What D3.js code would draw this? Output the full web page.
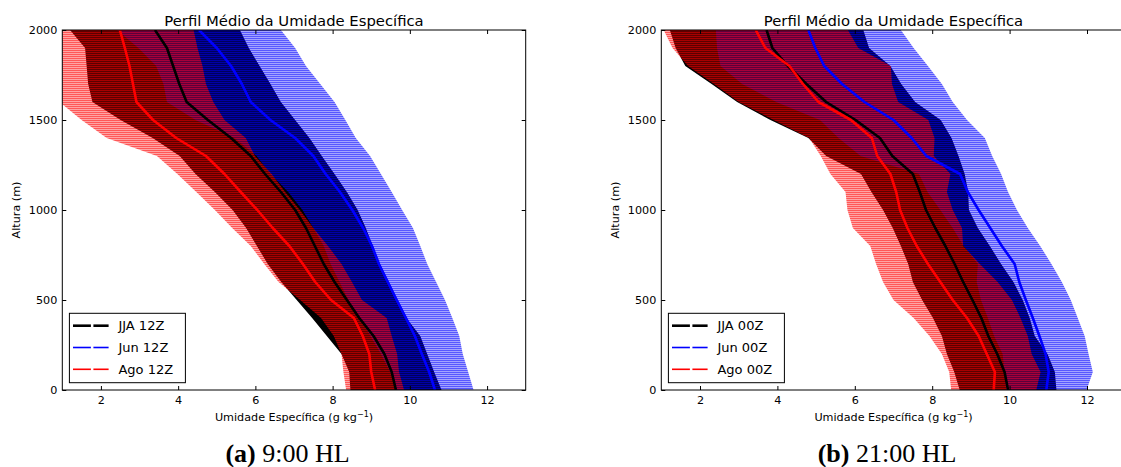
<!DOCTYPE html>
<html>
<head>
<meta charset="utf-8">
<script src="https://cdn.jsdelivr.net/npm/d3@7"></script>
<style>
  body { margin: 0; background: #fff; }
  svg { display: block; }
  text { font-family: "DejaVu Sans", sans-serif; fill: #000; }
</style>
</head>
<body>
<svg id="chart" width="1121" height="467"></svg>
<script>
// Height levels (m) of the mean profiles
const heights = [0, 100, 200, 300, 400, 500, 600, 700, 800, 900, 1000,
                 1100, 1200, 1300, 1400, 1500, 1600, 1700, 1800, 1900, 2000];

// 12Z soundings: mean specific humidity (g/kg) and standard deviation
const jja12Mean = [9.64, 9.53, 9.34, 9.06, 8.69, 8.37, 8.05, 7.77, 7.54, 7.31, 7.03, 6.66, 6.25, 5.88, 5.37, 4.77, 4.22, 4.03, 3.87, 3.71, 3.40];
const jja12Std  = [1.18, 1.10, 1.11, 1.21, 1.22, 1.30, 1.38, 1.45, 1.50, 1.55, 1.62, 1.71, 1.80, 1.84, 2.03, 2.26, 2.44, 2.36, 2.24, 2.12, 2.20];
const jun12Mean = [10.65, 10.50, 10.31, 10.13, 9.90, 9.66, 9.43, 9.20, 9.02, 8.79, 8.51, 8.19, 7.82, 7.50, 7.03, 6.39, 5.88, 5.65, 5.37, 5.00, 4.54];
const jun12Std  = [1.00, 1.01, 1.06, 1.15, 1.20, 1.25, 1.25, 1.25, 1.25, 1.29, 1.29, 1.34, 1.43, 1.47, 1.57, 1.94, 2.17, 2.03, 1.94, 2.03, 2.12];
const ago12Mean = [9.10, 9.00, 8.95, 8.78, 8.55, 7.96, 7.55, 7.23, 6.88, 6.45, 6.05, 5.62, 5.20, 4.72, 3.95, 3.35, 2.92, 2.83, 2.74, 2.62, 2.49];
const ago12Std  = [0.75, 0.72, 0.72, 0.75, 0.85, 0.80, 0.95, 1.00, 1.00, 1.05, 1.10, 1.15, 1.22, 1.27, 1.80, 1.85, 1.99, 1.89, 1.89, 1.88, 1.91];

// 00Z soundings
const jja00Mean = [9.96, 9.87, 9.68, 9.45, 9.27, 9.04, 8.80, 8.58, 8.34, 8.08, 7.84, 7.68, 7.50, 6.97, 6.65, 6.02, 5.26, 4.75, 4.27, 3.87, 3.72];
const jja00Std  = [1.25, 1.30, 1.30, 1.20, 1.25, 1.30, 1.30, 1.20, 1.15, 1.10, 1.11, 1.25, 1.34, 1.71, 1.85, 2.20, 2.30, 2.45, 2.65, 2.50, 2.50];
const jun00Mean = [10.95, 11.01, 10.93, 10.77, 10.60, 10.42, 10.25, 10.13, 9.80, 9.50, 9.20, 8.92, 8.72, 7.85, 7.47, 7.00, 6.25, 5.67, 5.21, 4.98, 4.80];
const jun00Std  = [1.04, 1.14, 1.11, 1.17, 1.16, 1.16, 1.10, 0.95, 0.99, 0.97, 0.99, 1.04, 1.06, 1.70, 1.89, 1.90, 2.28, 2.58, 2.68, 2.54, 2.39];
const ago00Mean = [9.59, 9.62, 9.41, 9.20, 8.90, 8.53, 8.21, 7.89, 7.60, 7.36, 7.17, 7.07, 6.92, 6.58, 6.44, 5.90, 5.06, 4.66, 4.31, 3.69, 3.44];
const ago00Std  = [1.10, 1.18, 1.16, 1.27, 1.38, 1.53, 1.48, 1.34, 1.20, 1.41, 1.36, 1.31, 1.55, 1.46, 1.62, 2.00, 2.06, 2.30, 2.62, 2.40, 2.38];

// Axis ticks and texts
const xDomain = [1, 13];
const yDomain = [0, 2000];
const xTicks = [2, 4, 6, 8, 10, 12];
const yTicks = [0, 500, 1000, 1500, 2000];
const titleText = "Perfil Médio da Umidade Específica";
const yLabelText = "Altura (m)";
const seriesNames = ["JJA", "Jun", "Ago"];
const seriesColors = ["#000000", "#0000ff", "#ff0000"];
const panelHours = ["12Z", "00Z"];
const captionTags = ["(a)", "(b)"];
const captionTimes = [" 9:00 HL", " 21:00 HL"];

const panels = [
  { left: 62.3, right: 525.7, captionX: 287.5,
    series: [[jja12Mean, jja12Std], [jun12Mean, jun12Std], [ago12Mean, ago12Std]] },
  { left: 661.3, right: 1125.7, captionX: 887,
    series: [[jja00Mean, jja00Std], [jun00Mean, jun00Std], [ago00Mean, ago00Std]] }
];

const plotTop = 30, plotBottom = 390;
const svg = d3.select("#chart");
const defs = svg.append("defs");

// Horizontal striped fills that mimic the dense error-bar lines
function stripePattern(id, color) {
  const p = defs.append("pattern")
    .attr("id", id).attr("patternUnits", "userSpaceOnUse")
    .attr("width", 8).attr("height", 2);
  p.append("rect").attr("width", 8).attr("height", 1).attr("y", 0)
    .attr("fill", color).attr("fill-opacity", 0.66);
  p.append("rect").attr("width", 8).attr("height", 1).attr("y", 1)
    .attr("fill", color).attr("fill-opacity", 0.36);
}
stripePattern("stripe-blue", "#0000ff");
stripePattern("stripe-red", "#ff0000");
const bandFills = ["#000000", "url(#stripe-blue)", "url(#stripe-red)"];

panels.forEach((pn, pi) => {
  const x = d3.scaleLinear().domain(xDomain).range([pn.left, pn.right]);
  const y = d3.scaleLinear().domain(yDomain).range([plotBottom, plotTop]);
  const g = svg.append("g");

  const clipId = "clip-" + pi;
  defs.append("clipPath").attr("id", clipId)
    .append("rect").attr("x", pn.left).attr("y", plotTop)
    .attr("width", pn.right - pn.left).attr("height", plotBottom - plotTop);

  const plot = g.append("g").attr("clip-path", `url(#${clipId})`);

  // error bands (mean ± std)
  pn.series.forEach(([mean, std], si) => {
    const area = d3.area()
      .x0((d, i) => x(mean[i] - std[i]))
      .x1((d, i) => x(mean[i] + std[i]))
      .y(d => y(d));
    plot.append("path").datum(heights)
      .attr("d", area)
      .attr("fill", bandFills[si]);
  });

  // mean profiles
  pn.series.forEach(([mean], si) => {
    const line = d3.line()
      .x((d, i) => x(mean[i]))
      .y(d => y(d));
    plot.append("path").datum(heights)
      .attr("d", line)
      .attr("fill", "none")
      .attr("stroke", seriesColors[si])
      .attr("stroke-width", 2.6)
      .attr("stroke-linejoin", "round");
  });

  // frame
  g.append("rect")
    .attr("x", pn.left).attr("y", plotTop)
    .attr("width", pn.right - pn.left).attr("height", plotBottom - plotTop)
    .attr("fill", "none").attr("stroke", "#000").attr("stroke-width", 1);

  // inward ticks on all four sides
  const tickLen = 4;
  const xAxisB = d3.axisBottom(x).tickValues(xTicks).tickSizeInner(-tickLen).tickSizeOuter(0).tickPadding(6).tickFormat(d3.format("d"));
  const xAxisT = d3.axisTop(x).tickValues(xTicks).tickSizeInner(-tickLen).tickSizeOuter(0).tickFormat("");
  const yAxisL = d3.axisLeft(y).tickValues(yTicks).tickSizeInner(-tickLen).tickSizeOuter(0).tickPadding(5).tickFormat(d3.format("d"));
  const yAxisR = d3.axisRight(y).tickValues(yTicks).tickSizeInner(-tickLen).tickSizeOuter(0).tickFormat("");

  const axes = [
    g.append("g").attr("transform", `translate(0,${plotBottom})`).call(xAxisB),
    g.append("g").attr("transform", `translate(0,${plotTop})`).call(xAxisT),
    g.append("g").attr("transform", `translate(${pn.left},0)`).call(yAxisL),
    g.append("g").attr("transform", `translate(${pn.right},0)`).call(yAxisR)
  ];
  axes.forEach(a => {
    a.select(".domain").remove();
    a.selectAll(".tick line").attr("stroke", "#000").attr("stroke-width", 1);
    a.selectAll(".tick text").attr("font-size", 11.2).attr("font-family", "DejaVu Sans, sans-serif").attr("fill", "#000");
  });

  const cx = (pn.left + pn.right) / 2;

  // title
  g.append("text").attr("x", cx).attr("y", 25.5)
    .attr("text-anchor", "middle").attr("font-size", 14.8)
    .text(titleText);

  // x label with superscript unit
  const xl = g.append("text").attr("x", cx).attr("y", 421)
    .attr("text-anchor", "middle").attr("font-size", 11.2);
  xl.append("tspan").text("Umidade Específica (g kg");
  xl.append("tspan").attr("dy", -4.5).attr("font-size", 8).text("−1");
  xl.append("tspan").attr("dy", 4.5).text(")");

  // y label
  g.append("text")
    .attr("transform", `translate(${pn.left - 42},${(plotTop + plotBottom) / 2}) rotate(-90)`)
    .attr("text-anchor", "middle").attr("font-size", 11.2)
    .text(yLabelText);

  // legend
  const lg = g.append("g").attr("transform", `translate(${pn.left + 7.1},313.3)`);
  lg.append("rect").attr("width", 116).attr("height", 69.4)
    .attr("fill", "#fff").attr("stroke", "#000").attr("stroke-width", 1);
  seriesNames.forEach((nm, si) => {
    const yy = 12.4 + si * 21.8;
    const w = si === 0 ? 2.6 : 1.6;
    lg.append("line").attr("x1", 3.6).attr("x2", 21.5).attr("y1", yy).attr("y2", yy)
      .attr("stroke", seriesColors[si]).attr("stroke-width", w);
    lg.append("line").attr("x1", 24).attr("x2", 39.2).attr("y1", yy).attr("y2", yy)
      .attr("stroke", seriesColors[si]).attr("stroke-width", w);
    lg.append("text").attr("x", 49).attr("y", yy + 4.8)
      .attr("font-size", 13).text(nm + " " + panelHours[pi]);
  });

  // caption under the panel
  const cap = svg.append("text").attr("x", pn.captionX).attr("y", 462)
    .attr("text-anchor", "middle")
    .style("font-family", "'Liberation Serif', 'Times New Roman', serif")
    .attr("font-size", 26);
  cap.append("tspan").attr("font-weight", "bold").text(captionTags[pi]);
  cap.append("tspan").text(captionTimes[pi]);
});
</script>
</body>
</html>
